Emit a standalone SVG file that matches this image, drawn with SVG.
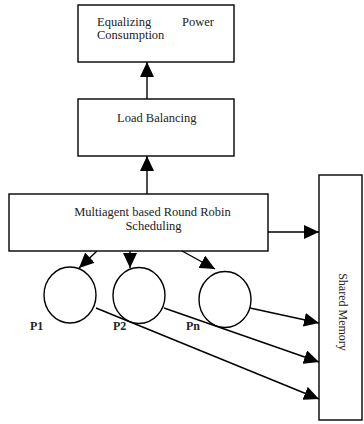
<svg xmlns="http://www.w3.org/2000/svg" width="364" height="424" viewBox="0 0 364 424">
<style>
.box{fill:#fff;stroke:#000;stroke-width:1.4}
.t{font-family:"Liberation Serif","Times New Roman",serif;font-size:12.5px;fill:#222}
.sm{font-family:"Liberation Serif","Times New Roman",serif;font-size:12px;fill:#222}
.lb{font-family:"Liberation Serif","Times New Roman",serif;font-size:12px;font-weight:bold;fill:#222}
.c{fill:none;stroke:#000;stroke-width:1.4}
</style>
<defs>
<marker id="ah" markerUnits="userSpaceOnUse" markerWidth="16" markerHeight="14" refX="15" refY="7" orient="auto">
<path d="M0,0 L15,7 L0,14 z" fill="#000"/>
</marker>
</defs>
<rect width="364" height="424" fill="#fff"/>
<g id="equalizing">
<rect class="box" x="78" y="5" width="156" height="57"/>
<text class="t" x="97" y="26">Equalizing</text>
<text class="t" x="214" y="26" text-anchor="end">Power</text>
<text class="t" x="97" y="39">Consumption</text>
</g>
<g id="load-balancing">
<rect class="box" x="78" y="99" width="156" height="57"/>
<text class="t" x="117" y="122">Load Balancing</text>
</g>
<g id="scheduling">
<rect class="box" x="9" y="194" width="259" height="57"/>
<text class="t" x="152.5" y="216" text-anchor="middle">Multiagent based Round Robin</text>
<text class="t" x="153.5" y="230" text-anchor="middle">Scheduling</text>
</g>
<g id="shared-memory">
<rect class="box" x="319" y="175" width="43" height="245"/>
<text class="sm" transform="translate(339,312) rotate(90)" text-anchor="middle">Shared Memory</text>
</g>
<g id="p1">
<ellipse class="c" cx="70" cy="295" rx="26" ry="28"/>
<text class="lb" x="30" y="330">P1</text>
</g>
<g id="p2">
<ellipse class="c" cx="139" cy="295.5" rx="26" ry="28"/>
<text class="lb" x="113" y="330">P2</text>
</g>
<g id="pn">
<ellipse class="c" cx="225" cy="299.5" rx="26" ry="28"/>
<text class="lb" x="186" y="330">Pn</text>
</g>
<g id="connectors" class="c" marker-end="url(#ah)">
<line x1="147" y1="99" x2="147" y2="62"/>
<line x1="147" y1="194" x2="147" y2="156"/>
<line x1="268" y1="232" x2="319" y2="232"/>
<line x1="97" y1="251" x2="79" y2="268"/>
<line x1="130" y1="251" x2="130" y2="268"/>
<line x1="182" y1="251" x2="215" y2="269"/>
<line x1="96" y1="308" x2="319" y2="399"/>
<line x1="164" y1="308" x2="319" y2="362"/>
<line x1="250" y1="308" x2="319" y2="323"/>
</g>
</svg>
